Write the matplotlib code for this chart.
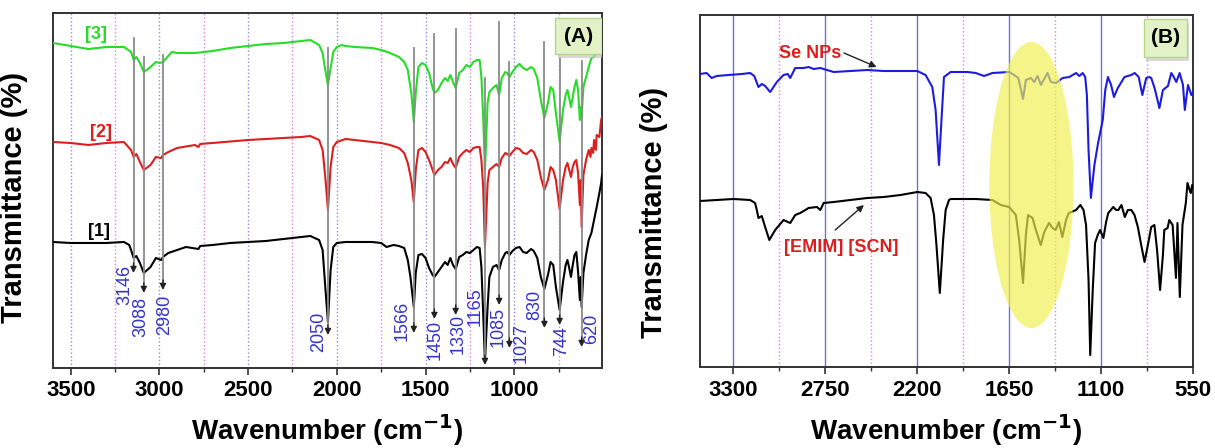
import matplotlib
matplotlib.use("Agg")
import matplotlib.pyplot as plt
from matplotlib.patches import Ellipse, FancyBboxPatch
from matplotlib.ticker import MultipleLocator
from matplotlib import font_manager

# ---------------- data: panel (A) ----------------
wn_a1 = [3600, 3500, 3400, 3300, 3200, 3170, 3160, 3145, 3130, 3110, 3088, 3050, 3020, 2990, 2980,
         2950, 2900, 2850, 2780, 2770, 2700, 2600, 2500, 2400, 2300, 2200, 2150, 2100, 2080, 2065,
         2050, 2035, 2020, 2000, 1950, 1900, 1800, 1750, 1720, 1700, 1680, 1650, 1620, 1600, 1585,
         1566, 1555, 1540, 1520, 1500, 1480, 1460, 1450, 1430, 1410, 1390, 1375, 1360, 1345, 1330,
         1310, 1290, 1270, 1250, 1230, 1210, 1195, 1185, 1175, 1165, 1150, 1140, 1120, 1100, 1085,
         1070, 1050, 1040, 1027, 1010, 990, 970, 950, 930, 905, 890, 870, 850, 830, 810,
         795, 780, 765, 744, 725, 710, 700, 690, 680, 670, 660, 650, 640, 630, 625,
         620, 610, 595, 580, 565, 550, 535, 520, 510, 505]
t_a1 = [126, 125, 125, 125, 126, 123, 118, 110, 112, 105, 95, 101, 110, 108, 111,
        115, 118, 121, 119, 122, 123, 125, 126, 127, 129, 131, 132, 128, 118, 81,
        46, 98, 121, 125, 126, 126, 126, 125, 121, 122, 123, 122, 120, 108, 91,
        61, 95, 113, 114, 110, 100, 93, 91, 96, 101, 106, 103, 110, 103, 99,
        111, 113, 116, 115, 118, 121, 120, 101, 55, 6, 61, 91, 101, 103, 98,
        108, 115, 116, 113, 117, 120, 121, 116, 115, 119, 117, 110, 91, 79, 93,
        106, 103, 81, 58, 86, 103, 108, 100, 91, 103, 113, 116, 96, 68, 91,
        61, 95, 113, 128, 135, 148, 161, 175, 185, 193]

wn_a2 = [3600, 3500, 3400, 3300, 3200, 3160, 3145, 3130, 3110, 3088, 3050, 3020, 2990, 2980, 2950,
         2900, 2800, 2780, 2770, 2700, 2500, 2300, 2200, 2150, 2100, 2080, 2065, 2050, 2035, 2020,
         2000, 1950, 1900, 1800, 1750, 1700, 1650, 1620, 1600, 1580, 1566, 1555, 1540, 1520, 1500,
         1480, 1460, 1450, 1430, 1410, 1390, 1375, 1360, 1345, 1330, 1310, 1290, 1270, 1250, 1230,
         1210, 1195, 1185, 1175, 1165, 1150, 1140, 1120, 1100, 1085, 1070, 1050, 1040, 1027, 1010,
         990, 970, 950, 930, 905, 890, 870, 850, 830, 810, 795, 780, 765, 744, 725,
         710, 700, 690, 680, 670, 660, 650, 640, 630, 625, 620, 610, 595, 580, 570,
         565, 555, 550, 540, 535, 520, 510, 505]
t_a2 = [226, 225, 223, 225, 226, 218, 211, 214, 206, 198, 203, 211, 210, 213, 216,
        220, 223, 221, 224, 225, 228, 230, 231, 232, 228, 218, 191, 158, 201, 221,
        226, 229, 228, 226, 225, 223, 220, 215, 205, 188, 166, 198, 218, 220, 216,
        208, 198, 193, 198, 201, 206, 205, 210, 204, 200, 211, 215, 218, 216, 220,
        221, 221, 208, 181, 121, 185, 198, 201, 204, 201, 210, 215, 214, 212, 216,
        220, 219, 215, 214, 218, 216, 208, 191, 178, 188, 201, 198, 188, 159, 188,
        201, 205, 198, 191, 201, 206, 208, 195, 163, 188, 141, 193, 208, 218, 211,
        220, 215, 228, 218, 233, 231, 248, 251]

wn_a3 = [3600, 3500, 3400, 3300, 3200, 3160, 3145, 3130, 3110, 3088, 3050, 3020, 3000, 2980, 2960,
         2930, 2900, 2850, 2800, 2700, 2600, 2500, 2400, 2300, 2200, 2150, 2100, 2080, 2065, 2050,
         2035, 2020, 2000, 1972, 1950, 1900, 1800, 1750, 1700, 1650, 1620, 1600, 1580, 1566, 1555,
         1540, 1520, 1500, 1480, 1460, 1450, 1430, 1410, 1390, 1375, 1360, 1345, 1330, 1310, 1290,
         1270, 1250, 1230, 1210, 1195, 1185, 1175, 1165, 1150, 1140, 1120, 1100, 1085, 1070, 1050,
         1040, 1027, 1010, 990, 970, 950, 930, 905, 890, 870, 850, 830, 810, 795, 780,
         765, 744, 725, 710, 700, 690, 680, 670, 660, 650, 640, 630, 625, 620, 610,
         595, 580, 565, 550, 535, 520, 510, 505]
t_a3 = [325, 322, 319, 321, 321, 316, 308, 311, 305, 296, 301, 306, 305, 306, 310,
        316, 315, 315, 315, 317, 320, 322, 324, 325, 327, 328, 323, 315, 298, 283,
        300, 316, 321, 323, 322, 321, 320, 318, 315, 311, 306, 298, 275, 246, 275,
        301, 305, 303, 295, 280, 275, 278, 285, 290, 287, 293, 286, 280, 295, 298,
        303, 301, 306, 308, 308, 291, 251, 198, 265, 276, 280, 283, 273, 290, 296,
        295, 291, 296, 301, 304, 300, 298, 301, 299, 290, 268, 250, 265, 281, 278,
        255, 226, 258, 273, 278, 270, 261, 271, 281, 288, 278, 248, 261, 251, 281,
        291, 301, 310, 311, 318, 328, 335, 343]

labels_a = ["[1]", "[2]", "[3]"]
peaks_a = [3146, 3088, 2980, 2050, 1566, 1450, 1330, 1165, 1085, 1027, 830, 744, 620]

# ---------------- data: panel (B) ----------------
wn_se = [3500, 3460, 3430, 3400, 3330, 3250, 3200, 3175, 3150, 3130, 3110, 3080, 3040, 3000, 2975,
         2960, 2930, 2880, 2850, 2820, 2780, 2740, 2700, 2600, 2500, 2400, 2200, 2150, 2110, 2090,
         2070, 2055, 2040, 2000, 1900, 1850, 1800, 1750, 1650, 1620, 1595, 1567, 1550, 1520, 1500,
         1480, 1460, 1421, 1400, 1370, 1330, 1290, 1250, 1230, 1210, 1195, 1185, 1175, 1161, 1140,
         1118, 1090, 1075, 1059, 1040, 1023, 1000, 960, 920, 899, 875, 853, 830, 810, 800,
         780, 751, 730, 700, 680, 665, 650, 630, 610, 599, 580, 560, 550]
t_se = [293, 294, 289, 291, 292, 293, 294, 291, 280, 283, 281, 275, 285, 292, 293,
        289, 299, 299, 300, 298, 299, 297, 295, 296, 297, 296, 296, 292, 280, 257,
        202, 247, 290, 295, 295, 294, 291, 294, 295, 292, 289, 268, 287, 289, 285,
        291, 282, 294, 285, 284, 289, 290, 294, 291, 294, 290, 272, 217, 169, 202,
        224, 247, 277, 290, 282, 270, 279, 290, 292, 294, 290, 272, 289, 290, 289,
        279, 259, 277, 281, 294, 290, 285, 294, 282, 257, 282, 272, 275]

wn_il = [3500, 3400, 3300, 3200, 3170, 3160, 3150, 3130, 3110, 3085, 3050, 3000, 2960, 2930, 2900,
         2850, 2800, 2780, 2760, 2700, 2600, 2500, 2400, 2300, 2200, 2150, 2120, 2100, 2085, 2065,
         2045, 2030, 2010, 2000, 1850, 1750, 1700, 1650, 1610, 1590, 1567, 1550, 1537, 1510, 1490,
         1461, 1440, 1412, 1390, 1372, 1352, 1332, 1310, 1293, 1250, 1224, 1205, 1190, 1175, 1165,
         1150, 1136, 1120, 1106, 1086, 1070, 1057, 1027, 1010, 997, 978, 958, 940, 919, 900,
         880, 860, 840, 820, 800, 781, 765, 747, 730, 722, 702, 692, 672, 652, 643,
         629, 613, 593, 583, 570, 563, 555, 550]
t_il = [166, 167, 168, 167, 164, 157, 149, 151, 140, 127, 137, 147, 144, 152, 154,
        159, 160, 157, 164, 165, 167, 169, 170, 172, 175, 174, 169, 152, 122, 74,
        127, 157, 167, 168, 168, 167, 162, 160, 152, 127, 84, 132, 152, 149, 137,
        122, 135, 144, 139, 137, 145, 130, 147, 154, 157, 162, 157, 142, 87, 12,
        77, 124, 132, 137, 129, 145, 154, 160, 157, 157, 162, 150, 157, 157, 152,
        140, 122, 105, 122, 140, 142, 117, 77, 112, 137, 139, 147, 142, 89, 144,
        70, 142, 164, 184, 177, 174, 182, 179]

names_b = ["Se NPs", "[EMIM] [SCN]"]

# ---------------- layout / style ----------------
green = "#26dc26"
red = "#dc1e1e"
blue = "#1c1ce0"
label_blue = "#3434c8"
box_face = "#e2f2c6"
box_edge = "#b5d48c"

# peak arrows (A): top / tip of gray line, label centre (x in cm-1, y in plot units)
arrow_top = [330, 311, 313, 320, 320, 334, 339, 290, 346, 306, 326, 310, 307]
arrow_tip = [95, 75, 78, 33, 35, 49, 53, 3, 63, 20, 40, 43, 21]
lab_x = [3195, 3105, 2969, 2105, 1630, 1444, 1314, 1218, 1088, 963, 884, 732, 562]
lab_y = [83, 51, 53, 36, 47, 28, 34, 61, 41, 25, 63, 27, 39]

names = [f.name for f in font_manager.fontManager.ttflist]
narrow = "Liberation Sans Narrow" if "Liberation Sans Narrow" in names else "Liberation Sans"
plt.rcParams["font.family"] = ["Liberation Sans", "DejaVu Sans"]

fig = plt.figure(figsize=(12.15, 4.48), dpi=100)
ax_a = fig.add_axes([0.0436, 0.1786, 0.4519, 0.7924])
ax_b = fig.add_axes([0.5761, 0.1808, 0.4058, 0.7857])


def style_axis(ax, major, minor, xlim, ylim, solid_major):
    ax.set_xlim(*xlim)
    ax.set_ylim(*ylim)
    ax.xaxis.set_major_locator(MultipleLocator(major))
    ax.xaxis.set_minor_locator(MultipleLocator(minor))
    ax.set_yticks([])
    ax.tick_params(axis="x", which="major", direction="out", length=5, width=1.2,
                   color="#333333", pad=4)
    ax.tick_params(axis="x", which="minor", direction="out", length=3, width=1.0,
                   color="#333333")
    for lbl in ax.get_xticklabels():
        lbl.set_fontfamily(narrow)
        lbl.set_fontweight("bold")
        lbl.set_fontsize(16)
    for s in ax.spines.values():
        s.set_linewidth(1.4)
        s.set_color("#333333")
    if solid_major:
        ax.grid(True, which="major", axis="x", color="#7070dc", linestyle="-", linewidth=1.0)
    else:
        ax.grid(True, which="major", axis="x", color="#8c8ce0", linestyle=":", linewidth=1.0)
    ax.grid(True, which="minor", axis="x", color="#e080e0", linestyle=":", linewidth=1.0)
    ax.set_axisbelow(True)
    ax.set_ylabel("Transmittance (%)", fontsize=21, fontweight="bold")
    ax.set_xlabel("Wavenumber (cm$^{\\mathbf{-1}}$)", fontsize=20, fontweight="bold",
                  fontfamily=narrow, labelpad=8)


def tag_box(ax, text, x0, y0, w, h):
    shadow = FancyBboxPatch((x0 + 0.004, y0 - 0.012), w, h, boxstyle="square,pad=0",
                            transform=ax.transAxes, facecolor="#c8c8c8", edgecolor="none",
                            zorder=6, alpha=0.7)
    box = FancyBboxPatch((x0, y0), w, h, boxstyle="square,pad=0", transform=ax.transAxes,
                         facecolor=box_face, edgecolor=box_edge, linewidth=1.0, zorder=7)
    ax.add_patch(shadow)
    ax.add_patch(box)
    ax.text(x0 + w / 2, y0 + h / 2, text, transform=ax.transAxes, ha="center", va="center",
            fontsize=15, fontweight="bold", zorder=8)


# ---------------- panel (A) ----------------
ax_a.plot(wn_a1, t_a1, color="black", lw=1.5, zorder=3)
ax_a.plot(wn_a2, t_a2, color=red, lw=1.5, zorder=3)
ax_a.plot(wn_a3, t_a3, color=green, lw=1.5, zorder=3)
style_axis(ax_a, 500, 250, (3600, 505), (0, 355), False)
ax_a.yaxis.set_label_coords(-0.045, 0.48)

for p, top, tip, lx, ly in zip(peaks_a, arrow_top, arrow_tip, lab_x, lab_y):
    ax_a.plot([p, p], [top, tip + 8], color="#8a8a8a", lw=1.3, zorder=4)
    ax_a.annotate("", xy=(p, tip), xytext=(p, tip + 10),
                  arrowprops=dict(arrowstyle="-|>", color="#222222", lw=1.0,
                                  mutation_scale=9, shrinkA=0, shrinkB=0), zorder=5)
    ax_a.text(lx, ly, str(p), rotation=90, ha="center", va="center", fontsize=13,
              color=label_blue, zorder=5)

for txt, col, (lx, ly) in zip(labels_a, ["black", red, green],
                              [(3340, 136), (3330, 235), (3355, 333)]):
    ax_a.text(lx, ly, txt, color=col, fontsize=13, fontweight="bold", ha="center",
              va="center", zorder=5)

tag_box(ax_a, "(A)", 0.915, 0.885, 0.085, 0.1)

# ---------------- panel (B) ----------------
ax_b.plot(wn_se, t_se, color=blue, lw=1.5, zorder=3)
ax_b.plot(wn_il, t_il, color="black", lw=1.5, zorder=3)
style_axis(ax_b, 550, 275, (3500, 550), (0, 352), True)
ax_b.yaxis.set_label_coords(-0.065, 0.44)

ax_b.add_patch(Ellipse((1517, 182), 503, 286, facecolor="#f0f050", edgecolor="none",
                       alpha=0.68, zorder=4))

ax_b.text(2839, 314, names_b[0], color=red, fontsize=13, fontweight="bold",
          ha="center", va="center", zorder=6)
ax_b.annotate("", xy=(2443, 300), xytext=(2638, 314),
              arrowprops=dict(arrowstyle="-|>", color="#222222", lw=1.0, mutation_scale=10,
                              shrinkA=0, shrinkB=0), zorder=6)
ax_b.text(2655, 120, names_b[1], color=red, fontsize=13, fontweight="bold",
          ha="center", va="center", zorder=6)
ax_b.annotate("", xy=(2519, 162), xytext=(2691, 137),
              arrowprops=dict(arrowstyle="-|>", color="#222222", lw=1.0, mutation_scale=10,
                              shrinkA=0, shrinkB=0), zorder=6)

tag_box(ax_b, "(B)", 0.9, 0.88, 0.088, 0.11)

fig.savefig("out.png", dpi=100)
